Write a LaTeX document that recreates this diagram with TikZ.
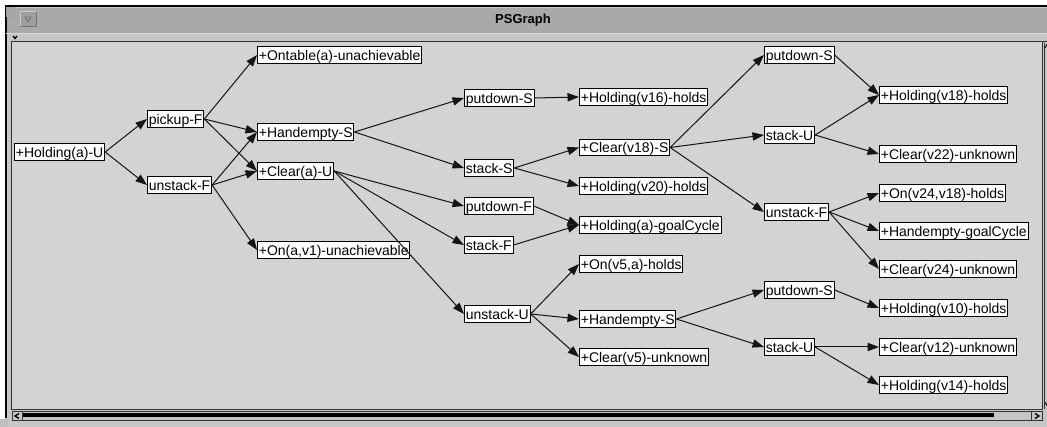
\documentclass[tikz,border=0pt]{standalone}
\usepackage{fontspec}
\setmainfont{Liberation Sans}
\usetikzlibrary{arrows.meta}

\definecolor{titlegrey}{HTML}{A9A9A9}
\definecolor{framegrey}{HTML}{C6C6C6}
\definecolor{panelgrey}{HTML}{D3D3D3}
\definecolor{edgegrey}{HTML}{141414}

\begin{document}
\begin{tikzpicture}[x=0.75pt,y=-0.75pt,
  gnode/.style={draw=black, fill=white, line width=0.75pt,
    font=\fontsize{10.5pt}{12pt}\selectfont,
    inner xsep=1pt, inner ysep=0pt, text height=10.2pt, text depth=2.4pt,
    anchor=west},
  link/.style={draw=edgegrey, line width=0.75pt,
    -{Triangle[length=8.6pt,width=6.2pt]}},
  chrome/.style={draw=black!80, line width=0.75pt},
]
\useasboundingbox (0,0) rectangle (1047,427);

% ---------- window frame ----------
\fill[white] (0,0) rectangle (1047,427);
\fill[framegrey] (5,6) rectangle (1047,427);
\fill[titlegrey] (6,8) rectangle (1047,33);
\draw[black, line width=1.5pt] (5,6.5) -- (1047,6.5);
\draw[black, line width=1.5pt] (5.5,6) -- (5.5,418);
\fill[black!35] (6,7.2) rectangle (15,17);
\draw[white!85!black, line width=1pt] (6,33.8) -- (1047,33.8);
\node[font=\bfseries\fontsize{9.75pt}{11pt}\selectfont] (title) at (523,20) {PSGraph};

% window menu button
\fill[black!38] (20,12) rectangle (36,27);
\draw[white!80!black, line width=0.75pt] (20,27) -- (20,12) -- (36,12);
\draw[black!55, line width=0.75pt] (36,12) -- (36,27) -- (20,27);
\draw[black!55, line width=0.6pt] (25,17) -- (31,17) -- (28,22) -- cycle;

% collapse marker above the panel
\draw[black, line width=1pt] (13,36) -- (15,38.5) -- (17,36);

% graph panel
\fill[panelgrey] (12,42) rectangle (1042,409);
\draw[black!85, line width=0.9pt] (11.5,41.5) -- (1047,41.5);
\draw[chrome] (11.5,41.5) rectangle (1042.5,409.5);

% vertical scroll bar (clipped at the right edge)
\draw[chrome] (1044.5,43) -- (1044.5,409);
\draw[black, line width=0.6pt] (1045,48) -- (1046.5,45) -- (1047,46);
\draw[black, line width=0.6pt] (1045,402) -- (1046.5,405) -- (1047,404);

% horizontal scroll bar
\draw[chrome] (12,411.5) rectangle (1042.5,421);
\draw[chrome] (22.5,411.5) -- (22.5,421);
\draw[chrome] (1031.5,411.5) -- (1031.5,421);
\draw[black, line width=1pt] (19,413.5) -- (15,416) -- (19,418.5);
\draw[black, line width=1pt] (1035,413.5) -- (1039,416) -- (1035,418.5);
\fill[black] (23,413.5) rectangle (994,416.8);
\fill[black!25] (0,419) rectangle (8,427);

% ---------- graph nodes ----------
\node[gnode] (holdA)     at (14,152)  {+Holding(a)-U};
\node[gnode] (pickF)     at (147,119) {pickup-F};
\node[gnode] (unstF)     at (147,185) {unstack-F};
\node[gnode] (ontabA)    at (257,55)  {+Ontable(a)-unachievable};
\node[gnode] (handS)     at (257,132) {+Handempty-S};
\node[gnode] (clearA)    at (257,171) {+Clear(a)-U};
\node[gnode] (onAv)      at (257,250) {+On(a,v1)-unachievable};
\node[gnode] (putS)      at (464,98)  {putdown-S};
\node[gnode] (stkS)      at (464,168) {stack-S};
\node[gnode] (putF)      at (464,206) {putdown-F};
\node[gnode] (stkF)      at (464,245) {stack-F};
\node[gnode] (unstU)     at (464,314) {unstack-U};
\node[gnode] (holdSixt)  at (579,97)  {+Holding(v16)-holds};
\node[gnode] (clearEig)  at (579,147.5) {+Clear(v18)-S};
\node[gnode] (holdTwen)  at (579,186) {+Holding(v20)-holds};
\node[gnode] (holdGoal)  at (579,225) {+Holding(a)-goalCycle};
\node[gnode] (onFive)    at (579,264) {+On(v5,a)-holds};
\node[gnode] (handSb)    at (579,319) {+Handempty-S};
\node[gnode] (clearFive) at (579,357) {+Clear(v5)-unknown};
\node[gnode] (putSb)     at (764,55)  {putdown-S};
\node[gnode] (stkU)      at (764,135) {stack-U};
\node[gnode] (unstFb)    at (764,212) {unstack-F};
\node[gnode] (putSc)     at (764,290) {putdown-S};
\node[gnode] (stkUb)     at (764,347) {stack-U};
\node[gnode] (holdEig)   at (879,95)  {+Holding(v18)-holds};
\node[gnode] (clearTT)   at (879,154) {+Clear(v22)-unknown};
\node[gnode] (onTF)      at (879,193) {+On(v24,v18)-holds};
\node[gnode] (handGoal)  at (879,231) {+Handempty-goalCycle};
\node[gnode] (clearTF)   at (879,269) {+Clear(v24)-unknown};
\node[gnode] (holdTen)   at (879,308) {+Holding(v10)-holds};
\node[gnode] (clearTw)   at (879,347) {+Clear(v12)-unknown};
\node[gnode] (holdFt)    at (879,385) {+Holding(v14)-holds};

% ---------- connectors ----------
\draw[link] (holdA.east) -- (pickF.west);
\draw[link] (holdA.east) -- (unstF.west);
\draw[link] (pickF.east) -- (ontabA.west);
\draw[link] (pickF.east) -- (handS.west);
\draw[link] (pickF.east) -- (clearA.west);
\draw[link] (unstF.east) -- (handS.west);
\draw[link] (unstF.east) -- (clearA.west);
\draw[link] (unstF.east) -- (onAv.west);
\draw[link] (handS.east) -- (putS.west);
\draw[link] (handS.east) -- (stkS.west);
\draw[link] (clearA.east) -- (putF.west);
\draw[link] (clearA.east) -- (stkF.west);
\draw[link] (clearA.east) -- (unstU.west);
\draw[link] (putS.east) -- (holdSixt.west);
\draw[link] (stkS.east) -- (clearEig.west);
\draw[link] (stkS.east) -- (holdTwen.west);
\draw[link] (putF.east) -- (holdGoal.west);
\draw[link] (stkF.east) -- (holdGoal.west);
\draw[link] (unstU.east) -- (onFive.west);
\draw[link] (unstU.east) -- (handSb.west);
\draw[link] (unstU.east) -- (clearFive.west);
\draw[link] (clearEig.east) -- (putSb.west);
\draw[link] (clearEig.east) -- (stkU.west);
\draw[link] (clearEig.east) -- (unstFb.west);
\draw[link] (putSb.east) -- (holdEig.west);
\draw[link] (stkU.east) -- (holdEig.west);
\draw[link] (stkU.east) -- (clearTT.west);
\draw[link] (unstFb.east) -- (onTF.west);
\draw[link] (unstFb.east) -- (handGoal.west);
\draw[link] (unstFb.east) -- (clearTF.west);
\draw[link] (handSb.east) -- (putSc.west);
\draw[link] (handSb.east) -- (stkUb.west);
\draw[link] (putSc.east) -- (holdTen.west);
\draw[link] (stkUb.east) -- (clearTw.west);
\draw[link] (stkUb.east) -- (holdFt.west);
\end{tikzpicture}
\end{document}
